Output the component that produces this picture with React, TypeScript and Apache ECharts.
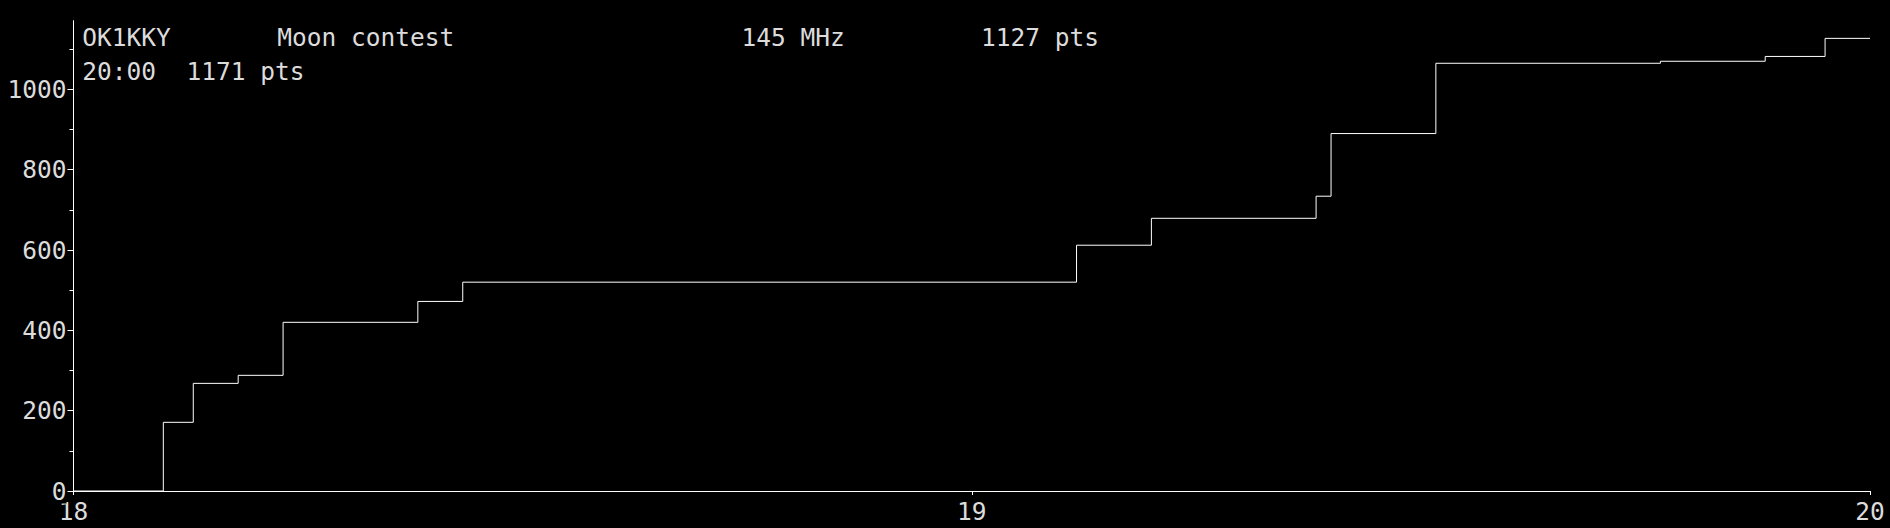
import React, { useEffect, useRef } from "react";
import * as echarts from "echarts";

// contest log: time of each new score and the running total
const times = [
  "18:00", "18:06", "18:08", "18:11", "18:14", "18:23", "18:26", "19:07",
  "19:12", "19:23", "19:24", "19:31", "19:46", "19:53", "19:57", "20:00",
];
const scores = [
  0, 171, 268, 288, 420, 472, 520, 612, 679, 734, 890, 1065, 1070, 1082, 1127,
  1127,
];

const yMajorTicks = [0, 200, 400, 600, 800, 1000];
const yMinorTicks = [100, 300, 500, 700, 900, 1100];
const yMax = 1171;
const xTicks = [18, 19, 20];

const FONT = "DejaVu Sans Mono";
const TEXT = "#dcdcdc";

const toHours = (t: string) => {
  const [h, m] = t.split(":").map(Number);
  return h + m / 60;
};

const App: React.FC = () => {
  const chartRef = useRef<HTMLDivElement>(null);

  useEffect(() => {
    if (!chartRef.current) return;
    const chart = echarts.init(chartRef.current, undefined, { renderer: "svg" });

    const textStyle = (text: string) => ({
      text,
      fill: TEXT,
      font: `24.5px "${FONT}"`,
      verticalAlign: "middle",
    });

    const option = {
      animation: false,
      backgroundColor: "#000",
      grid: {
        left: 73.5,
        right: 20,
        top: 20.7,
        bottom: 37,
        containLabel: false,
        outerBoundsMode: "none",
      },
      xAxis: {
        type: "value",
        min: xTicks[0],
        max: xTicks[xTicks.length - 1],
        interval: 1,
        z: 2,
        axisLine: { lineStyle: { color: "#fff", width: 1 } },
        axisTick: { show: true, length: 4, lineStyle: { color: "#fff" } },
        axisLabel: {
          color: TEXT,
          fontFamily: FONT,
          fontSize: 24.5,
          margin: 8,
          customValues: xTicks,
          formatter: (v: number) => String(v),
        },
        splitLine: { show: false },
      },
      yAxis: [
        {
          type: "value",
          min: 0,
          max: yMax,
          interval: 200,
          z: 5,
          axisLine: { show: true, lineStyle: { color: "#fff", width: 1 } },
          axisTick: {
            show: true,
            length: 6,
            lineStyle: { color: "#fff" },
            customValues: yMajorTicks,
          },
          axisLabel: {
            color: TEXT,
            fontFamily: FONT,
            fontSize: 24.5,
            margin: 7,
            backgroundColor: "#000",
            customValues: yMajorTicks,
            formatter: (v: number) => String(v),
          },
          splitLine: { show: false },
        },
        {
          type: "value",
          min: 0,
          max: yMax,
          interval: 100,
          position: "left",
          axisLine: { show: false },
          axisTick: {
            show: true,
            length: 4,
            lineStyle: { color: "#fff" },
            customValues: yMinorTicks,
          },
          axisLabel: { show: false },
          splitLine: { show: false },
        },
      ],
      graphic: [
        { type: "text", x: 82.3, y: 37.5, style: textStyle("OK1KKY") },
        { type: "text", x: 277.2, y: 37.5, style: textStyle("Moon contest") },
        { type: "text", x: 741.4, y: 37.5, style: textStyle("145 MHz") },
        { type: "text", x: 981, y: 37.5, style: textStyle("1127 pts") },
        { type: "text", x: 82.3, y: 71.3, style: textStyle("20:00") },
        { type: "text", x: 186.6, y: 71.3, style: textStyle("1171 pts") },
      ],
      series: [
        {
          type: "line",
          step: "end",
          yAxisIndex: 0,
          symbol: "none",
          lineStyle: { color: "#fff", width: 1 },
          data: times.map((t, i) => [toHours(t), scores[i]]),
        },
      ],
    };

    chart.setOption(option);

    const observer = new ResizeObserver(() => chart.resize());
    observer.observe(chartRef.current);

    return () => {
      observer.disconnect();
      chart.dispose();
    };
  }, []);

  return (
    <div
      ref={chartRef}
      style={{
        position: "fixed",
        left: 0,
        top: 0,
        width: 1890,
        height: 528,
        background: "#000",
      }}
    />
  );
};

export default App;
